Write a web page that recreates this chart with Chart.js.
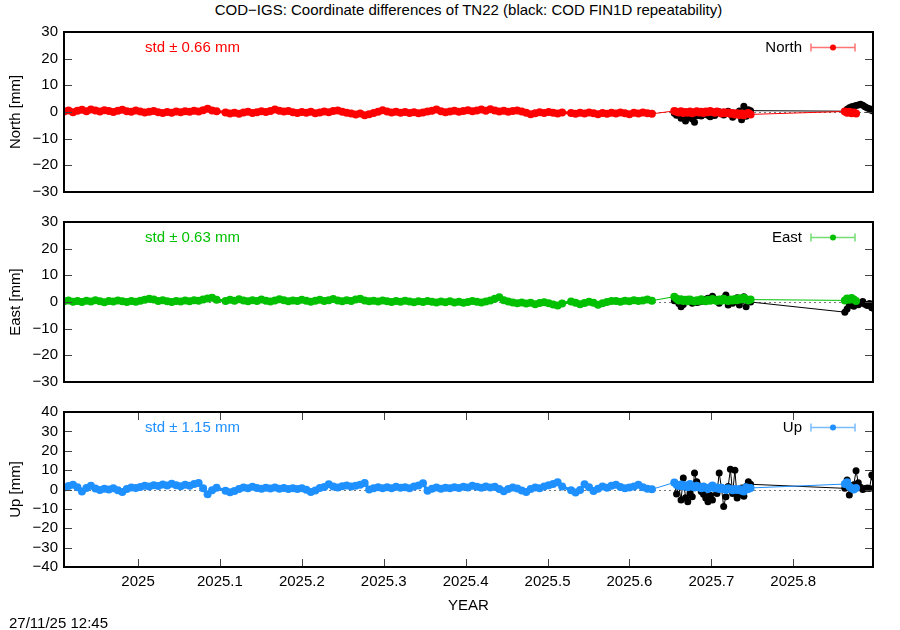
<!DOCTYPE html>
<html>
<head>
<meta charset="utf-8">
<script src="https://cdn.jsdelivr.net/npm/chart.js@4.4.1/dist/chart.umd.min.js"></script>
<style>
  body { margin: 0; background: #fff; }
  #page { position: relative; width: 900px; height: 630px; font-family: "Liberation Sans", Arial, sans-serif; color: #000; }
  canvas { position: absolute; left: 0; }
  .txt { position: absolute; font-size: 15px; line-height: 15px; white-space: nowrap; }
</style>
</head>
<body>
<div id="page">
  <div class="txt" style="left:0;width:937px;text-align:center;top:2px">COD−IGS: Coordinate differences of TN22 (black: COD FIN1D repeatability)</div>
  <canvas id="c0" width="900" height="207" style="top:0"></canvas>
  <canvas id="c1" width="900" height="197" style="top:200px"></canvas>
  <canvas id="c2" width="900" height="240" style="top:390px"></canvas>
  <div class="txt" style="left:0;width:937px;text-align:center;top:597px">YEAR</div>
  <div class="txt" style="left:9px;top:615px">27/11/25 12:45</div>
</div>
<script>
// epochs in days relative to 2025.0
const daysMain = [-33,-31,-29,-27,-25,-23,-21,-19,-17,-15,-13,-11,-9,-7,-5,-3,-1,1,3,5,7,9,11,13,15,17,19,21,23,25,27,29,31,33,35,
  39,41,43,45,47,49,51,53,55,57,59,61,63,65,67,69,71,73,75,77,79,81,83,85,87,89,91,93,95,97,99,101,103,105,107,109,111,113,115,117,
  119,121,123,125,127,129,131,133,135,137,139,141,143,145,147,149,151,153,155,157,159,161,163,165,167,169,171,173,175,177,179,181,183,185,187,189,
  193,195,197,199,201,203,205,207,209,211,213,215,217,219,221,223,225,227,229];
const daysB = [239,240,241,242,243,244,245,246,247,248,249,250,251,252,253,254,255,256,257,258,259,260,261,262,263,264,265,266,267,268,269,270,271,272,273];
const daysC = [315,316,317,318,319,320];
const daysBlackC = [315,316,317,318,319,320,321,322,323,324,325,326,327,328];

// North [mm]
const northMain = [0.2,0.6,-0.1,0.5,0.8,0.3,0.9,0.6,0.2,0.7,0.4,0.0,0.5,0.8,0.3,0.1,0.6,0.2,-0.2,0.1,0.4,-0.1,-0.4,0.0,-0.3,0.2,-0.1,0.3,0.1,0.5,0.2,0.7,1.2,0.6,0.3,
  -0.2,-0.6,-0.3,-0.7,-0.2,0.1,-0.4,-0.1,0.3,0.0,0.4,0.9,0.5,0.2,0.4,-0.1,-0.4,0.0,-0.3,0.1,-0.5,-0.2,0.2,-0.1,0.4,0.6,0.1,-0.3,-0.6,-0.9,
  -0.6,-1.2,-0.8,-0.4,0.1,0.7,0.2,-0.2,0.1,-0.3,0.0,-0.4,-0.1,-0.5,-0.2,0.2,0.5,0.9,0.3,-0.1,0.2,0.5,0.1,0.4,0.7,0.3,0.6,0.9,0.5,1.0,
  0.6,0.2,0.5,0.1,0.4,0.6,0.2,-0.3,-0.8,-0.5,-0.1,-0.4,0.0,-0.3,-0.6,-0.2,
  -0.4,-0.7,-0.3,-0.6,-0.2,-0.5,-0.8,-0.4,-0.7,-0.3,-0.6,-0.2,-0.5,-0.8,-0.3,-0.6,-0.2,-0.5,-0.7];
const northB = [0.4,0.1,-0.2,0.3,-0.4,0.0,-0.3,0.2,-0.5,-0.1,0.3,-0.2,0.1,-0.4,0.2,-0.1,0.4,0.0,-0.3,0.2,-0.2,-0.6,-0.1,-0.5,-0.2,-0.7,-0.4,-0.9,-0.5,-1.1,-0.6,-1.2,-0.7,-0.4,-0.9];
const northC = [0.2,-0.3,0.1,-0.5,-0.2,-0.6];
const northBlackB = [-0.5,-1.2,-0.8,-2.3,-1.5,-3.4,-2.0,-1.6,-2.6,-3.8,-1.4,-0.8,-1.5,-0.9,-0.3,-1.2,-1.8,-0.7,-1.3,-0.4,0.1,-0.6,-1.1,-0.2,0.3,-0.8,-2.0,-0.5,-1.0,0.4,-2.9,2.2,-1.6,0.8,0.5];
const northBlackC = [0.3,1.0,1.6,2.0,2.2,2.4,2.6,2.9,2.5,2.0,1.5,1.2,0.6,0.2];

// East [mm]
const eastMain = [0.3,0.6,0.1,0.4,0.0,0.5,0.2,0.7,0.3,-0.1,0.4,0.2,0.6,0.3,0.0,0.4,0.1,0.5,0.8,1.2,0.9,0.4,0.7,0.3,0.0,0.4,0.2,0.6,0.3,0.7,0.5,0.9,1.3,1.6,0.8,
  0.4,0.8,0.5,1.0,0.6,0.3,0.7,0.4,0.9,0.5,0.2,0.6,1.0,0.7,0.3,0.6,0.4,0.8,0.5,0.1,0.5,0.8,0.4,0.7,1.1,0.6,0.3,0.7,0.4,0.9,
  1.2,0.6,0.3,0.5,0.2,0.6,0.3,0.0,0.4,0.1,0.5,0.2,-0.1,0.3,0.0,0.4,0.1,-0.2,0.2,-0.1,0.3,-0.2,0.1,-0.3,0.0,0.4,0.1,-0.2,0.2,0.6,
  1.2,1.8,0.7,0.2,-0.2,-0.5,-0.2,-0.6,-0.3,-0.8,-0.4,-0.1,-0.5,-0.9,-1.3,-0.6,
  0.2,-0.3,-0.8,-0.4,0.1,-0.3,-1.0,-0.5,0.0,0.4,0.4,0.1,0.5,0.3,0.7,0.4,0.6,0.9,0.5];
const eastB = [2.0,1.2,0.6,1.0,0.4,0.8,0.3,0.9,0.5,0.2,0.7,0.4,1.0,0.6,0.3,0.8,0.5,1.1,0.7,0.4,0.9,0.5,1.2,0.7,0.4,0.9,0.6,1.1,0.7,1.4,0.9,1.6,1.0,0.6,0.9];
const eastC = [0.6,1.3,0.8,1.5,0.9,0.4];
const eastBlackB = [0.5,1.4,-0.6,-1.8,-0.9,0.3,1.0,0.2,-0.5,0.4,-0.2,0.0,0.7,0.3,1.0,1.4,0.6,2.2,1.1,0.4,-0.5,0.6,1.5,2.6,-1.1,0.2,-0.5,0.8,1.6,-1.1,0.5,2.0,-1.8,0.6,0.0];
const eastBlackC = [-3.8,-2.6,-1.2,-0.5,-1.6,0.0,-1.0,-0.5,0.2,-0.8,-1.3,-0.6,-2.2,-2.6];

// Up [mm]
const upMain = [1.0,1.8,2.4,1.2,-1.0,0.8,1.9,0.5,-0.3,0.4,0.0,0.6,-0.4,-1.3,0.2,1.0,0.8,1.3,2.0,1.6,2.2,1.8,2.6,2.1,3.0,2.2,1.7,2.4,1.9,2.8,3.4,0.6,-2.4,-0.4,0.9,
  -0.6,-1.4,-0.8,0.3,1.0,0.6,1.4,0.8,0.4,0.9,0.5,1.0,0.4,0.8,0.3,0.7,0.3,0.6,-0.1,-1.3,-0.5,0.8,1.3,2.7,1.6,1.0,1.7,2.1,1.5,1.9,
  2.5,3.4,0.0,0.6,1.2,0.6,1.1,0.7,1.4,0.9,1.2,0.7,1.5,2.1,3.2,-0.6,0.4,1.0,0.4,0.9,0.6,1.2,0.8,1.4,1.0,2.0,1.4,0.9,1.5,1.0,
  1.4,0.3,-0.9,0.3,1.0,0.5,-0.5,-1.3,0.3,1.0,0.7,1.5,2.2,2.8,3.7,1.6,
  -0.4,-1.6,-0.3,2.7,1.2,-0.8,0.4,1.5,0.9,1.9,2.4,1.3,0.7,1.0,1.6,2.4,1.2,0.4,0.1];
const upB = [3.6,2.4,1.8,2.6,1.5,2.2,1.2,2.8,1.6,1.0,2.0,1.3,0.7,1.6,0.9,0.3,1.2,2.1,0.6,1.0,0.2,0.9,0.4,-0.2,0.6,0.1,-0.4,0.3,-0.3,0.2,-0.6,-1.0,1.2,0.3,0.8];
const upC = [2.8,3.8,1.5,0.6,0.0,0.8];
const upBlackB = [3.5,-2.3,1.5,-5.4,6.0,-4.2,-6.3,-1.8,-3.7,8.5,4.0,2.0,-1.0,-2.5,-4.4,-6.3,-3.0,-5.4,0.8,-2.0,8.5,1.0,-8.8,-3.7,1.5,10.5,-2.0,10.0,-4.4,-2.5,0.8,-3.5,1.5,4.0,2.7];
const upBlackC = [0.6,4.9,-2.8,1.0,2.5,9.7,3.5,1.2,0.0,0.5,0.8,0.5,7.5,6.0];

const xTicks = [2025, 2025.1, 2025.2, 2025.3, 2025.4, 2025.5, 2025.6, 2025.7, 2025.8];
const yTicksNE = [-30, -20, -10, 0, 10, 20, 30];
const yTicksUp = [-40, -30, -20, -10, 0, 10, 20, 30, 40];
const panelNames = ["North", "East", "Up"];
const panelStd = ["0.66", "0.63", "1.15"];
const panelColors = ["#ff0000", "#00c000", "#1e90ff"];
const panelLight = ["rgba(255,0,0,0.55)", "rgba(0,192,0,0.55)", "rgba(30,144,255,0.6)"];

const xMin = 2025 - 33 / 365;
const xMax = 2025.8974;

Chart.defaults.font.family = "'Liberation Sans', Arial, sans-serif";
Chart.defaults.font.size = 15;
Chart.defaults.color = "#000";

function toXY(days, vals) {
  return days.map((d, i) => ({ x: 2025 + d / 365, y: vals[i] }));
}

function minus(v) {
  return String(v).replace("-", "\u2212");
}

const panelPlugin = {
  id: "panel",
  beforeDatasetsDraw(chart, args, o) {
    const { ctx, chartArea: a, scales } = chart;
    const p = Math.round(scales.y.getPixelForValue(0)) + 0.5;
    ctx.save();
    ctx.strokeStyle = "#777";
    ctx.lineWidth = 1;
    ctx.setLineDash([2, 3]);
    ctx.beginPath();
    ctx.moveTo(a.left, p);
    ctx.lineTo(a.right, p);
    ctx.stroke();
    ctx.restore();
  },
  afterDraw(chart, args, o) {
    const { ctx, chartArea: a, scales } = chart;
    ctx.save();
    // inward ticks
    ctx.strokeStyle = "#444";
    ctx.lineWidth = 1;
    ctx.beginPath();
    o.yTicks.forEach(v => {
      const p = Math.round(scales.y.getPixelForValue(v)) + 0.5;
      ctx.moveTo(a.left, p); ctx.lineTo(a.left + 8, p);
      ctx.moveTo(a.right - 8, p); ctx.lineTo(a.right, p);
    });
    if (o.xTicks) {
      xTicks.forEach(v => {
        const p = Math.round(scales.x.getPixelForValue(v)) + 0.5;
        ctx.moveTo(p, a.top); ctx.lineTo(p, a.top + 8);
        ctx.moveTo(p, a.bottom); ctx.lineTo(p, a.bottom - 8);
      });
    }
    ctx.stroke();
    // frame
    ctx.strokeStyle = "#000";
    ctx.lineWidth = 2;
    ctx.strokeRect(a.left, a.top, a.right - a.left, a.bottom - a.top);

    ctx.font = "15px 'Liberation Sans', Arial, sans-serif";
    ctx.textBaseline = "middle";
    // std label
    ctx.fillStyle = o.color;
    ctx.textAlign = "left";
    ctx.fillText("std \u00b1 " + o.std + " mm", 145, a.top + 16);
    // key
    const ky = a.top + 15.5;
    ctx.fillStyle = "#000";
    ctx.textAlign = "right";
    ctx.fillText(o.name, 802, ky);
    ctx.strokeStyle = o.light;
    ctx.lineWidth = 1.5;
    ctx.beginPath();
    ctx.moveTo(811, ky); ctx.lineTo(855, ky);
    ctx.moveTo(811, ky - 4); ctx.lineTo(811, ky + 4);
    ctx.moveTo(855, ky - 4); ctx.lineTo(855, ky + 4);
    ctx.stroke();
    ctx.fillStyle = o.color;
    ctx.beginPath();
    ctx.arc(833, ky, 3, 0, Math.PI * 2);
    ctx.fill();
    // y axis title
    ctx.fillStyle = "#000";
    ctx.translate(16, (a.top + a.bottom) / 2);
    ctx.rotate(-Math.PI / 2);
    ctx.textAlign = "center";
    ctx.fillText(o.name + " [mm]", 0, 0);
    ctx.restore();
  }
};

// thin connecting line across data gaps, thicker within continuous runs
const gapWidth = c => (c.p1.parsed.x - c.p0.parsed.x > 0.015 ? 1 : 3);

function makePanel(id, k, main, b, c, blackB, blackC, yTicks, showX, topPad, bottomPad) {
  const colored = toXY(daysMain, main).concat(toXY(daysB, b), toXY(daysC, c));
  const black = toXY(daysB, blackB).concat(toXY(daysBlackC, blackC));
  return new Chart(document.getElementById(id), {
    type: "line",
    data: {
      datasets: [
        {
          data: colored,
          borderColor: panelColors[k],
          borderWidth: 3,
          segment: { borderWidth: gapWidth },
          pointRadius: 4,
          pointBorderWidth: 0,
          pointBackgroundColor: panelColors[k],
          clip: 0
        },
        {
          data: black,
          borderColor: "#000",
          borderWidth: 1,
          pointRadius: 3.5,
          pointBorderWidth: 0,
          pointBackgroundColor: "#000",
          clip: 0
        }
      ]
    },
    options: {
      responsive: false,
      animation: false,
      events: [],
      layout: { padding: { left: 20, right: 27, top: topPad, bottom: bottomPad } },
      plugins: {
        legend: { display: false },
        tooltip: { enabled: false },
        panel: {
          name: panelNames[k], std: panelStd[k], color: panelColors[k],
          light: panelLight[k], yTicks: yTicks, xTicks: showX
        }
      },
      scales: {
        x: {
          type: "linear",
          min: xMin,
          max: xMax,
          display: showX,
          grid: { display: false, drawTicks: false },
          border: { display: false },
          afterBuildTicks: s => { s.ticks = xTicks.map(v => ({ value: v })); },
          afterFit: s => { s.height = showX ? 63 : 0; },
          ticks: {
            padding: 6,
            maxRotation: 0,
            autoSkip: false,
            callback: v => v.toFixed(1).replace(/\.0$/, "")
          }
        },
        y: {
          min: yTicks[0],
          max: yTicks[yTicks.length - 1],
          grid: { display: false, drawTicks: false },
          border: { display: false },
          afterBuildTicks: s => { s.ticks = yTicks.map(v => ({ value: v })); },
          afterFit: s => { s.width = 44; },
          ticks: { padding: 6, autoSkip: false, callback: v => minus(v) }
        }
      }
    },
    plugins: [panelPlugin]
  });
}

makePanel("c0", 0, northMain, northB, northC, northBlackB, northBlackC, yTicksNE, false, 32, 1);
makePanel("c1", 1, eastMain, eastB, eastC, eastBlackB, eastBlackC, yTicksNE, false, 22, 1);
makePanel("c2", 2, upMain, upB, upC, upBlackB, upBlackC, yTicksUp, true, 22, 0);
</script>
</body>
</html>
